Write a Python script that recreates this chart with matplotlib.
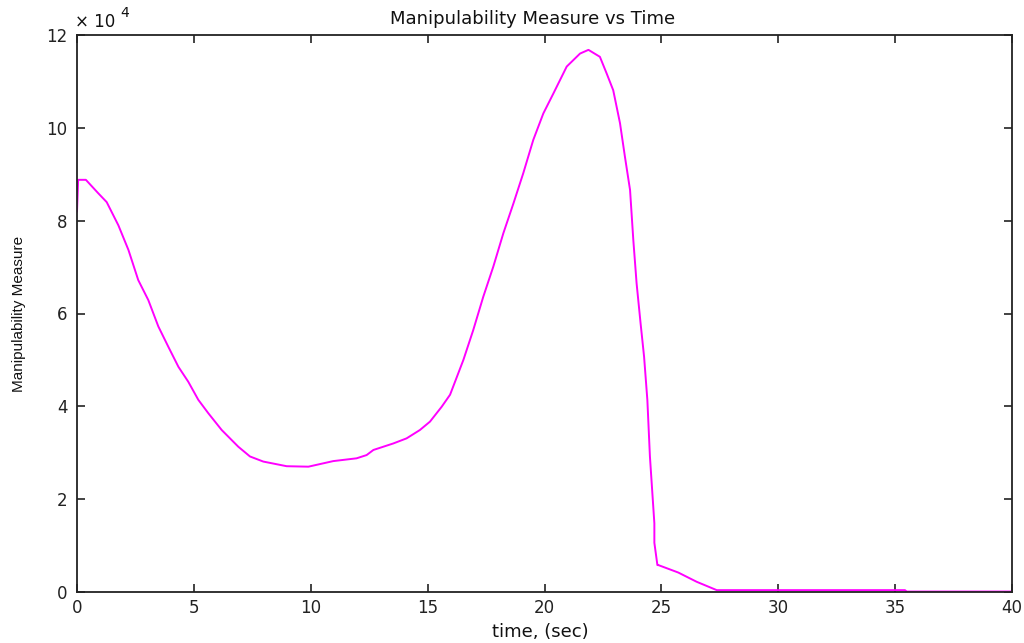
import matplotlib
matplotlib.use("Agg")
import matplotlib.pyplot as plt

plt.rcParams['font.family'] = ['DejaVu Sans']

# time (s) and manipulability measure (x 10^4)
t = [0.0, 0.05, 0.38, 0.91, 1.27, 1.77, 2.2, 2.62, 3.05, 3.48, 3.91, 4.34, 4.76,
     5.19, 5.62, 6.19, 6.9, 7.4, 7.97, 8.47, 8.97, 9.9, 10.96, 11.96, 12.39, 12.68,
     13.53, 14.1, 14.67, 15.1, 15.6, 15.96, 16.53, 16.95, 17.38, 17.81, 18.24,
     18.67, 19.09, 19.52, 19.95, 20.38, 20.95, 21.52, 21.88, 22.37, 22.66, 22.94,
     23.23, 23.44, 23.66, 23.8, 23.94, 24.11, 24.26, 24.4, 24.51, 24.7, 24.7,
     24.83, 24.87, 25.72, 26.51, 27.37, 35.42, 35.5, 40.0]
m = [8.2, 8.88, 8.88, 8.59, 8.4, 7.9, 7.37, 6.72, 6.29, 5.72, 5.28, 4.85, 4.53,
     4.14, 3.85, 3.49, 3.13, 2.92, 2.81, 2.76, 2.71, 2.70, 2.82, 2.88, 2.95, 3.06,
     3.2, 3.31, 3.49, 3.67, 3.99, 4.25, 5.0, 5.64, 6.36, 7.01, 7.73,
     8.37, 9.02, 9.74, 10.31, 10.74, 11.32, 11.6, 11.68, 11.53, 11.17, 10.81,
     10.1, 9.38, 8.66, 7.58, 6.65, 5.79, 5.07, 4.14, 2.92, 1.48, 1.06,
     0.58, 0.58, 0.42, 0.22, 0.04, 0.04, 0.01, 0.01]

xticks = [0, 5, 10, 15, 20, 25, 30, 35, 40]
yticks = [0, 2, 4, 6, 8, 10, 12]

W, H = 1024, 643
fig = plt.figure(figsize=(W/100, H/100), dpi=100)
ax = fig.add_axes([77/W, 51/H, 935/W, 557/H])
ax.plot(t, m, color='#FF00FF', linewidth=1.4)
ax.set_xlim(0, 40)
ax.set_ylim(0, 12)
ax.set_xticks(xticks)
ax.set_yticks(yticks)
ax.tick_params(direction='in', top=True, right=True, length=6, width=1.2,
               labelsize=12, colors='#222222')
ax.tick_params(axis='y', pad=7)
ax.tick_params(axis='x', pad=5)
for s in ax.spines.values():
    s.set_linewidth(1.3)
    s.set_color('#222222')

fig.text(533/W, 1 - 24/H, 'Manipulability Measure vs Time', fontsize=13,
         ha='center', va='baseline', color='#111111')
fig.text(540/W, 1 - 637/H, 'time, (sec)', fontsize=13,
         ha='center', va='baseline', color='#111111')
ax.set_ylabel('Manipulability Measure', fontsize=11,
              family=['Liberation Sans', 'DejaVu Sans'], color='#111111')
ax.yaxis.set_label_coords((26 - 77)/935, 0.5)

fig.text(75/W, 1 - 27/H, '\u00d7 10', fontsize=12, ha='left', va='baseline',
         color='#111111')
fig.text(120/W, 1 - 17/H, '4', fontsize=10, ha='left', va='baseline',
         color='#111111')
fig.savefig('out.png', dpi=100)
